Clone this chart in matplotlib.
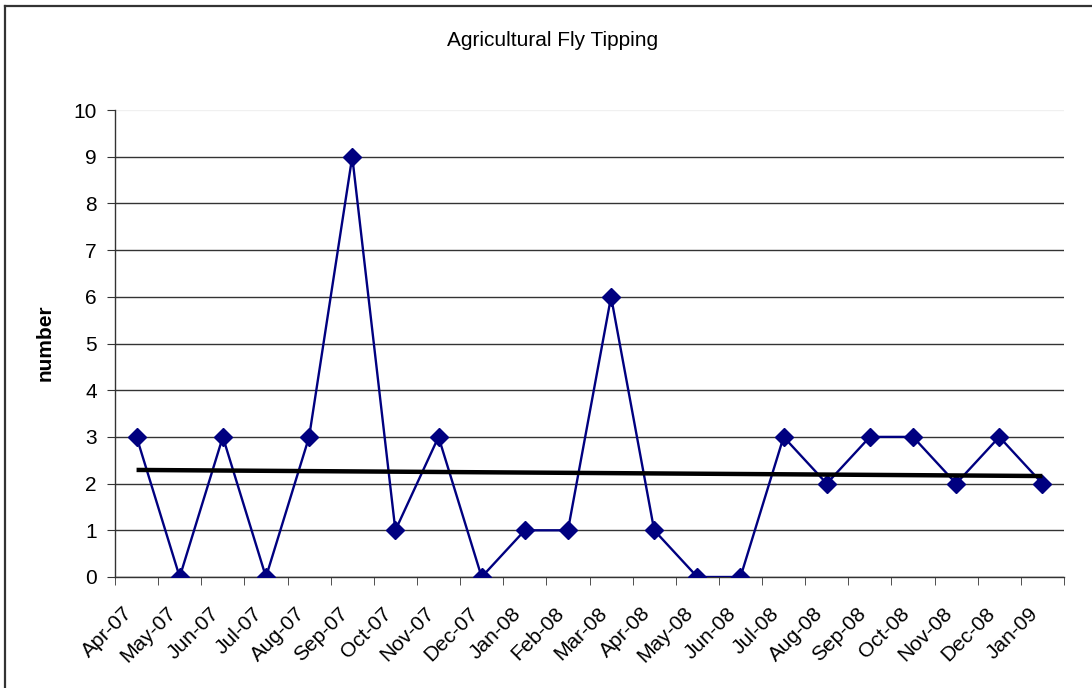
import numpy as np
import matplotlib
matplotlib.use('Agg')
import matplotlib.pyplot as plt
from matplotlib.lines import Line2D
from matplotlib.transforms import ScaledTranslation

plt.rcParams['font.family'] = ['Liberation Sans', 'DejaVu Sans']

# Monthly counts
months = ['Apr-07', 'May-07', 'Jun-07', 'Jul-07', 'Aug-07', 'Sep-07', 'Oct-07',
          'Nov-07', 'Dec-07', 'Jan-08', 'Feb-08', 'Mar-08', 'Apr-08', 'May-08',
          'Jun-08', 'Jul-08', 'Aug-08', 'Sep-08', 'Oct-08', 'Nov-08', 'Dec-08',
          'Jan-09']
counts = [3, 0, 3, 0, 3, 9, 1, 3, 0, 1, 1, 6, 1, 0, 0, 3, 2, 3, 3, 2, 3, 2]
y_ticks = list(range(0, 11))

NAVY = '#000080'
GRID = '#333333'
FS = 15

fig = plt.figure(figsize=(10.92, 6.88), dpi=100)
ax = fig.add_axes([115 / 1092, 111 / 688, 949 / 1092, 467 / 688])

x = np.arange(len(months))

# linear trend line (Excel style)
slope, intercept = np.polyfit(x, counts, 1)
ax.plot([x[0], x[-1]], [intercept + slope * x[0], intercept + slope * x[-1]],
        color='black', linewidth=3.2, solid_capstyle='butt', zorder=4)

ax.plot(x, counts, color=NAVY, linewidth=1.7, marker='D', markersize=9,
        markerfacecolor=NAVY, markeredgecolor=NAVY, zorder=3)

ax.set_xlim(-0.5, len(months) - 0.5)
ax.set_ylim(0, 10)

ax.set_yticks(y_ticks)
ax.set_yticklabels([str(v) for v in y_ticks], fontsize=FS)
ax.yaxis.grid(True, color=GRID, linewidth=1.0)
ax.yaxis.get_gridlines()[-1].set_color('#f0f0f0')
ax.set_axisbelow(True)

ax.set_xticks(x)
ax.set_xticklabels(months, fontsize=FS, rotation=45, ha='right',
                   va='center', rotation_mode='anchor')
ax.set_xticks(np.arange(-0.5, len(months), 1), minor=True)
ax.tick_params(axis='x', which='major', length=0, pad=24)
ax.tick_params(axis='x', which='minor', length=6, direction='out', color=GRID)
ax.tick_params(axis='y', length=6, direction='out', color=GRID, pad=7)

offset = ScaledTranslation(-7 / 100, 0, fig.dpi_scale_trans)
for lbl in ax.xaxis.get_majorticklabels():
    lbl.set_transform(lbl.get_transform() + offset)

for side in ['top', 'right']:
    ax.spines[side].set_visible(False)
for side in ['left', 'bottom']:
    ax.spines[side].set_color(GRID)
    ax.spines[side].set_linewidth(1.0)

fig.text(553 / 1092, 1 - 40 / 688, 'Agricultural Fly Tipping', fontsize=FS,
         ha='center', va='center')
fig.text(45 / 1092, 1 - 343 / 688, 'number', fontsize=FS, fontweight='bold',
         rotation=90, ha='center', va='center')

# chart area border (only left and top edges fall inside the image)
fig.add_artist(Line2D([5 / 1092, 5 / 1092], [0, 1 - 6 / 688],
                      transform=fig.transFigure, color='#333333', linewidth=1.6))
fig.add_artist(Line2D([5 / 1092, 1], [1 - 6 / 688, 1 - 6 / 688],
                      transform=fig.transFigure, color='#333333', linewidth=1.6))

fig.savefig('out.png', dpi=100)
